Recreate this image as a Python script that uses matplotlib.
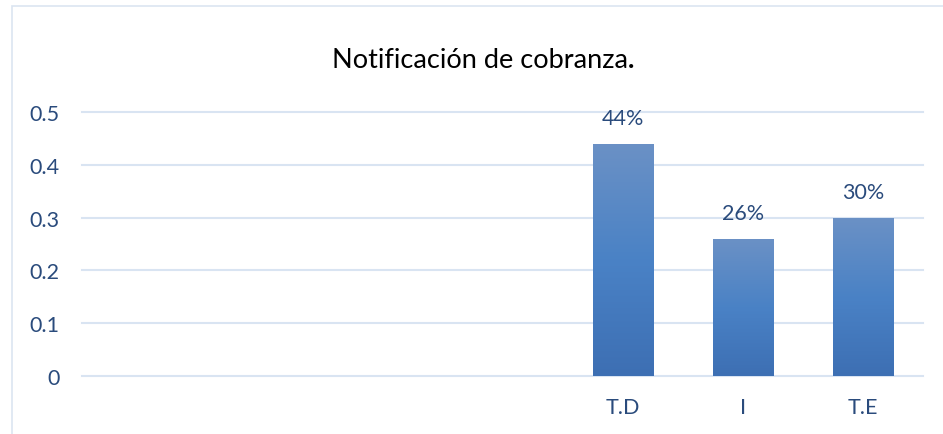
import matplotlib
matplotlib.use("Agg")
import matplotlib.pyplot as plt
from matplotlib.patches import Rectangle
from matplotlib.colors import LinearSegmentedColormap
import numpy as np

# Chart data
categories = ["", "", "", "", "T.D", "I", "T.E"]
values = [None, None, None, None, 0.44, 0.26, 0.30]
value_labels = ["", "", "", "", "44%", "26%", "30%"]
y_ticks = [0, 0.1, 0.2, 0.3, 0.4, 0.5]
y_tick_labels = ["0", "0.1", "0.2", "0.3", "0.4", "0.5"]
title = "Notificación de cobranza"

plt.rcParams["font.family"] = ["Lato", "DejaVu Sans"]

width, height, dpi = 943, 435, 100
text_color = "#2a4b7c"
grid_color = "#d9e4f2"

fig = plt.figure(figsize=(width / dpi, height / dpi), dpi=dpi)

# Chart area border (light blue, runs off the right/bottom edge)
fig.patches.append(Rectangle((12 / width, -0.1), 1.2, 1 - 7 / height + 0.1,
                             transform=fig.transFigure, fill=False,
                             edgecolor="#dbe5f1", linewidth=1.2))

ax = fig.add_axes([82 / width, 1 - 377 / height, (923 - 82) / width, (377 - 113) / height])
ax.set_xlim(-0.5, len(categories) - 0.5)
ax.set_ylim(0, 0.5)

for s in ax.spines.values():
  s.set_visible(False)

# Gridlines at each y tick
for t in y_ticks:
  ax.axhline(t, color=grid_color, linewidth=1.5, clip_on=False, zorder=0)

# Gradient for bars: lighter top, darker bottom
cmap = LinearSegmentedColormap.from_list("bar", ["#3d6fb3", "#4a82c6", "#6b91c5"])
gradient = np.linspace(0, 1, 256).reshape(-1, 1)

positions = list(range(len(categories)))
for pos, val, lab in zip(positions, values, value_labels):
  if val is None:
    continue
  bar = ax.bar(pos, val, width=0.5, color="none", zorder=2)[0]
  x0, y0 = bar.get_x(), bar.get_y()
  im = ax.imshow(gradient, cmap=cmap, aspect="auto", origin="lower",
                 extent=[x0, x0 + bar.get_width(), y0, y0 + bar.get_height()], zorder=2)
  im.set_clip_path(bar)
  ax.annotate(lab, (pos, val), xytext=(0, 11), textcoords="offset points",
              ha="center", va="bottom", fontsize=15.5, color=text_color)

ax.set_xlim(-0.5, len(categories) - 0.5)
ax.set_ylim(0, 0.5)

ax.set_xticks(positions)
ax.set_xticklabels(categories, fontsize=15.5, color=text_color)
ax.set_yticks(y_ticks)
ax.set_yticklabels(y_tick_labels, fontsize=15.5, color=text_color)
ax.tick_params(axis="both", length=0)
ax.tick_params(axis="y", pad=16)
ax.tick_params(axis="x", pad=15)

# Title with a heavier period, like the original
t = fig.text(480 / width, 1 - 60 / height, title, ha="center", va="center",
             fontsize=19.5, color="black")
fig.canvas.draw()
bb = t.get_window_extent()
fig.text(bb.x1 / width, 1 - 60 / height, ".", ha="left", va="center",
         fontsize=19.5, fontweight="bold", color="black")

fig.savefig("out.png", dpi=dpi)
